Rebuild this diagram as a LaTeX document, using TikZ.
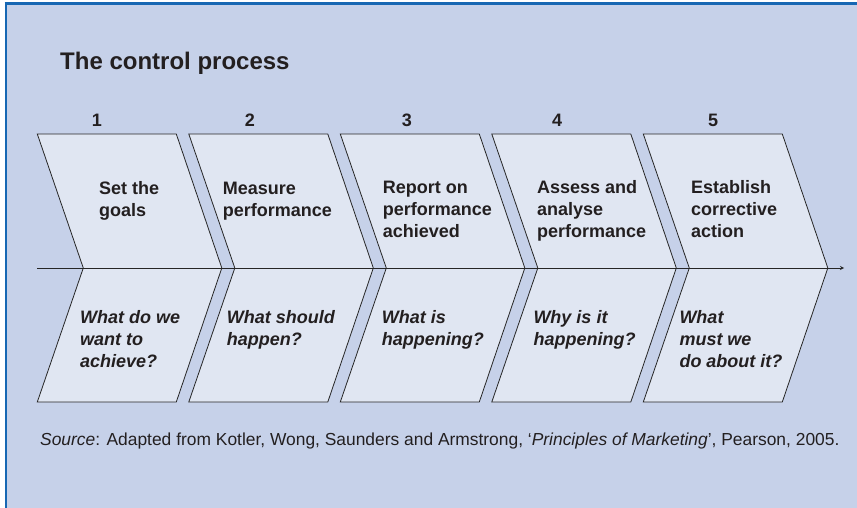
\documentclass[tikz,border=0pt]{standalone}
\usepackage{fontspec}
\setmainfont{Liberation Sans}
\definecolor{panelbg}{HTML}{C6D1E9}
\definecolor{panelline}{HTML}{1767B3}
\definecolor{chevronfill}{HTML}{E0E6F2}
\definecolor{inktext}{HTML}{231F20}

\begin{document}
\begin{tikzpicture}[
    x=1pt, y=-1pt,
    >=stealth,
    chevron/.style={
        draw=black!85,
        line width=0.8pt,
        fill=chevronfill
    },
    title/.style={
        font=\fontsize{24}{28}\selectfont\bfseries,
        text=inktext,
        anchor=base west,
        inner sep=0pt
    },
    stepnum/.style={
        font=\fontsize{18}{22}\selectfont\bfseries,
        text=inktext,
        anchor=base,
        inner sep=0pt
    },
    action/.style={
        font=\fontsize{18}{22}\selectfont\bfseries,
        text=inktext,
        align=left,
        anchor=base west,
        inner sep=0pt
    },
    question/.style={
        action,
        font=\fontsize{18}{22}\selectfont\bfseries\itshape
    },
    source/.style={
        font=\fontsize{17.4}{20}\selectfont,
        text=inktext,
        anchor=base west,
        inner sep=0pt
    },
    arr/.style={->, line width=0.8pt, draw=black!85}
]
    \useasboundingbox (0,0) rectangle (857,508);
    % panel
    \fill[panelbg] (4.7,2) rectangle (857,508);
    \draw[panelline, line width=2.7pt] (4.7,3.35) -- (857,3.35);
    \draw[panelline, line width=2pt] (5.7,2) -- (5.7,508);

    \node[title] (title) at (60,69.3) {The control process};

    % chevrons
    \foreach \i in {0,...,4} {
        \pgfmathsetmacro\xl{37.3+151.5*\i}
        \draw[chevron] (\xl,134) -- ++(139,0) -- ++(45.5,134) -- ++(-45.5,134)
            -- ++(-139,0) -- ++(46,-134) -- cycle;
    }

    \coordinate (axisstart) at (37.3,268);
    \coordinate (axisend) at (844,268);
    \draw[arr] (axisstart) -- (axisend);

    \node[stepnum] (num1) at (97,126.5) {1};
    \node[stepnum] (num2) at (250,126.5) {2};
    \node[stepnum] (num3) at (407,126.5) {3};
    \node[stepnum] (num4) at (557,126.5) {4};
    \node[stepnum] (num5) at (713,126.5) {5};

    % base = last line
    \node[action] (goals) at (99,216) {Set the\\goals};
    \node[action] (measure) at (222.7,216) {Measure\\performance};
    \node[action] (report) at (382.7,237.5) {Report on\\performance\\achieved};
    \node[action] (assess) at (537,237.5) {Assess and\\analyse\\performance};
    \node[action] (correct) at (691,237.5) {Establish\\corrective\\action};

    \node[question] (achieve) at (80,367) {What do we\\want to\\achieve?};
    \node[question] (happen) at (226.7,345) {What should\\happen?};
    \node[question] (happening) at (381.7,345) {What is\\happening?};
    \node[question] (why) at (533.3,345) {Why is it\\happening?};
    \node[question] (must) at (679.3,367) {What\\must we\\do about it?};

    \node[source] (source) at (40,445.7) {\textit{Source}: Adapted from Kotler, Wong, Saunders and Armstrong, ‘\textit{Principles of Marketing}’, Pearson, 2005.};
\end{tikzpicture}
\end{document}
